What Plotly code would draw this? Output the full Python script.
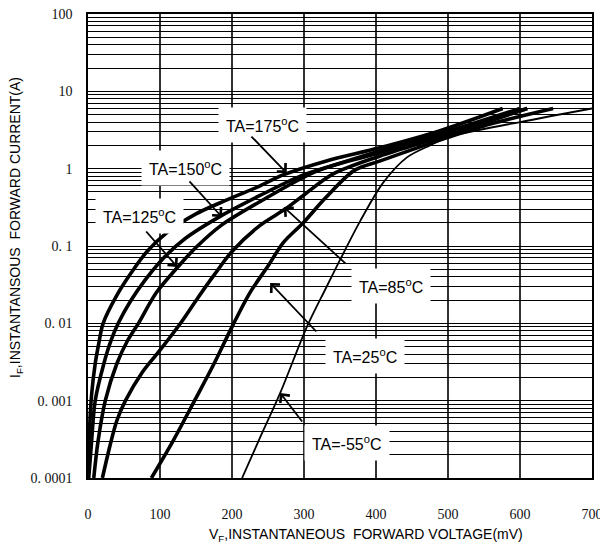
import plotly.graph_objects as go

# ---- data ----
v_175 = [0, 2, 5, 10, 15, 21, 40, 60, 82, 110, 150, 183, 239, 271, 330, 405, 489, 576]
i_175 = [1e-4, 4e-4, 0.0012, 0.003, 0.0055, 0.01, 0.023, 0.045, 0.085, 0.15, 0.26, 0.36, 0.6, 0.83, 1.25, 1.86, 3.1, 6.0]

v_150 = [1, 5, 10, 22, 32, 42, 60, 80, 105, 135, 183, 239, 295, 340, 405, 498, 600]
i_150 = [1e-4, 3e-4, 0.001, 0.003, 0.006, 0.01, 0.02, 0.037, 0.07, 0.125, 0.24, 0.45, 0.8, 1.1, 1.7, 3.0, 6.0]

v_125 = [8, 14, 24, 40, 55, 70, 95, 125, 152, 185, 240, 320, 405, 498, 610]
i_125 = [1e-4, 3e-4, 0.001, 0.003, 0.006, 0.01, 0.025, 0.054, 0.1, 0.185, 0.38, 0.95, 1.6, 2.85, 6.0]

v_85 = [20, 30, 40, 52, 75, 100, 130, 152, 175, 200, 239, 274, 299, 340, 405, 498, 610]
i_85 = [1e-4, 2.5e-4, 5.5e-4, 0.001, 0.0023, 0.0045, 0.0105, 0.021, 0.042, 0.085, 0.185, 0.3, 0.45, 0.85, 1.45, 2.7, 6.0]

v_25 = [88, 118, 148, 175, 200, 225, 250, 271, 299, 330, 370, 405, 498, 560, 646]
i_25 = [1e-4, 3e-4, 0.001, 0.003, 0.009, 0.025, 0.055, 0.11, 0.2, 0.42, 0.95, 1.25, 2.5, 3.8, 6.0]

v_m55 = [214, 240, 267, 304, 330, 350, 378, 410, 443, 475, 503, 600, 700]
i_m55 = [1e-4, 3.5e-4, 0.00126, 0.009, 0.028, 0.066, 0.21, 0.66, 1.4, 2.0, 2.6, 4.0, 6.0]

x_ticks = [0, 100, 200, 300, 400, 500, 600, 700]
x_ticktext = ["0", "100", "200", "300", "400", "500", "600", "700"]
y_major = [1e-4, 1e-3, 1e-2, 1e-1, 1, 10, 100]
y_major_text = ["0. 0001", "0. 001", "0. 01", "0. 1", "1", "10", "100"]

labels = ["TA=175", "TA=150", "TA=125", "TA=85", "TA=25", "TA=-55"]
# label centre (V, log10 I), arrow tail, arrow tip
label_pos = [(242, 0.565), (135, 0.009), (71, -0.612), (421, -1.517), (385, -2.422), (360, -3.547)]
arrow_tail = [(225, 0.435), (139, -0.146), (79, -0.793), (360, -1.246), (319, -2.125), (299, -3.289)]
arrow_tip = [(276, -0.056), (186, -0.625), (124, -1.271), (272, -0.496), (253, -1.478), (267, -2.901)]

x_title = "V<sub>F</sub>,INSTANTANEOUS\u00a0 FORWARD VOLTAGE(mV)"
y_title = "I<sub>F</sub>,INSTANTANSOUS\u00a0 FORWARD CURRENT(A)"

# ---- figure ----
fig = go.Figure()
series = [(v_175, i_175, 3.6), (v_150, i_150, 3.6), (v_125, i_125, 3.6),
          (v_85, i_85, 3.6), (v_25, i_25, 3.6), (v_m55, i_m55, 1.8)]
for v, i, w in series:
    fig.add_trace(go.Scatter(x=v, y=i, mode="lines",
                             line=dict(color="black", width=w, shape="spline", smoothing=0.9),
                             showlegend=False, hoverinfo="skip"))

# all log grid values (1..9 per decade)
y_grid = []
y_gridtext = []
for d in range(-4, 2):
    for m in range(1, 10):
        y_grid.append(m * 10 ** d)
        y_gridtext.append(y_major_text[d + 4] if m == 1 else "")
y_grid.append(100)
y_gridtext.append(y_major_text[6])

for k in range(len(labels)):
    fig.add_annotation(x=label_pos[k][0], y=label_pos[k][1], xref="x", yref="y",
                       text=labels[k] + "<sup>o</sup>C", showarrow=False,
                       bgcolor="white", borderpad=7,
                       font=dict(family="Liberation Sans, Arial", size=16, color="black"))
    fig.add_annotation(x=arrow_tip[k][0], y=arrow_tip[k][1], xref="x", yref="y",
                       ax=arrow_tail[k][0], ay=arrow_tail[k][1], axref="x", ayref="y",
                       text="", showarrow=True, arrowhead=4, arrowsize=1.3,
                       arrowwidth=1.8, arrowcolor="black")

# page body has an 8px default margin: the plot area sits at 88..592 x 14..478 in the window
L, T, W, H = 80, 6, 600, 538
fig.add_annotation(x=(366 - 88) / 504, y=(478 - 535) / 464, xref="paper", yref="paper",
                   xanchor="center", yanchor="middle", showarrow=False, text=x_title,
                   font=dict(family="Liberation Sans, Arial", size=14, color="black"))
fig.add_annotation(x=(16 - 88) / 504, y=(478 - 228) / 464, xref="paper", yref="paper",
                   xanchor="center", yanchor="middle", showarrow=False, textangle=-90,
                   text=y_title,
                   font=dict(family="Liberation Sans, Arial", size=14, color="black"))

fig.update_layout(
    width=W, height=H,
    margin=dict(l=L, r=W - L - 504, t=T, b=H - T - 464),
    paper_bgcolor="white", plot_bgcolor="white",
    xaxis=dict(range=[0, 700], tickvals=x_ticks, ticktext=x_ticktext, automargin=False,
               showgrid=True, gridcolor="#333333", gridwidth=1.5,
               showline=True, linecolor="black", linewidth=1.5, mirror=True,
               zeroline=False, ticks="", ticklabelstandoff=22, ticklabeloverflow="allow",
               tickfont=dict(family="Liberation Serif, serif", size=14, color="#111111")),
    yaxis=dict(type="log", range=[-4, 2], tickvals=y_grid, ticktext=y_gridtext, automargin=False,
               showgrid=True, gridcolor="black", gridwidth=1.2,
               showline=True, linecolor="black", linewidth=1.5, mirror=True,
               zeroline=False, ticks="", ticklabelstandoff=11, ticklabeloverflow="allow",
               tickfont=dict(family="Liberation Serif, serif", size=14, color="#111111")),
)

fig.write_html("out.html")
